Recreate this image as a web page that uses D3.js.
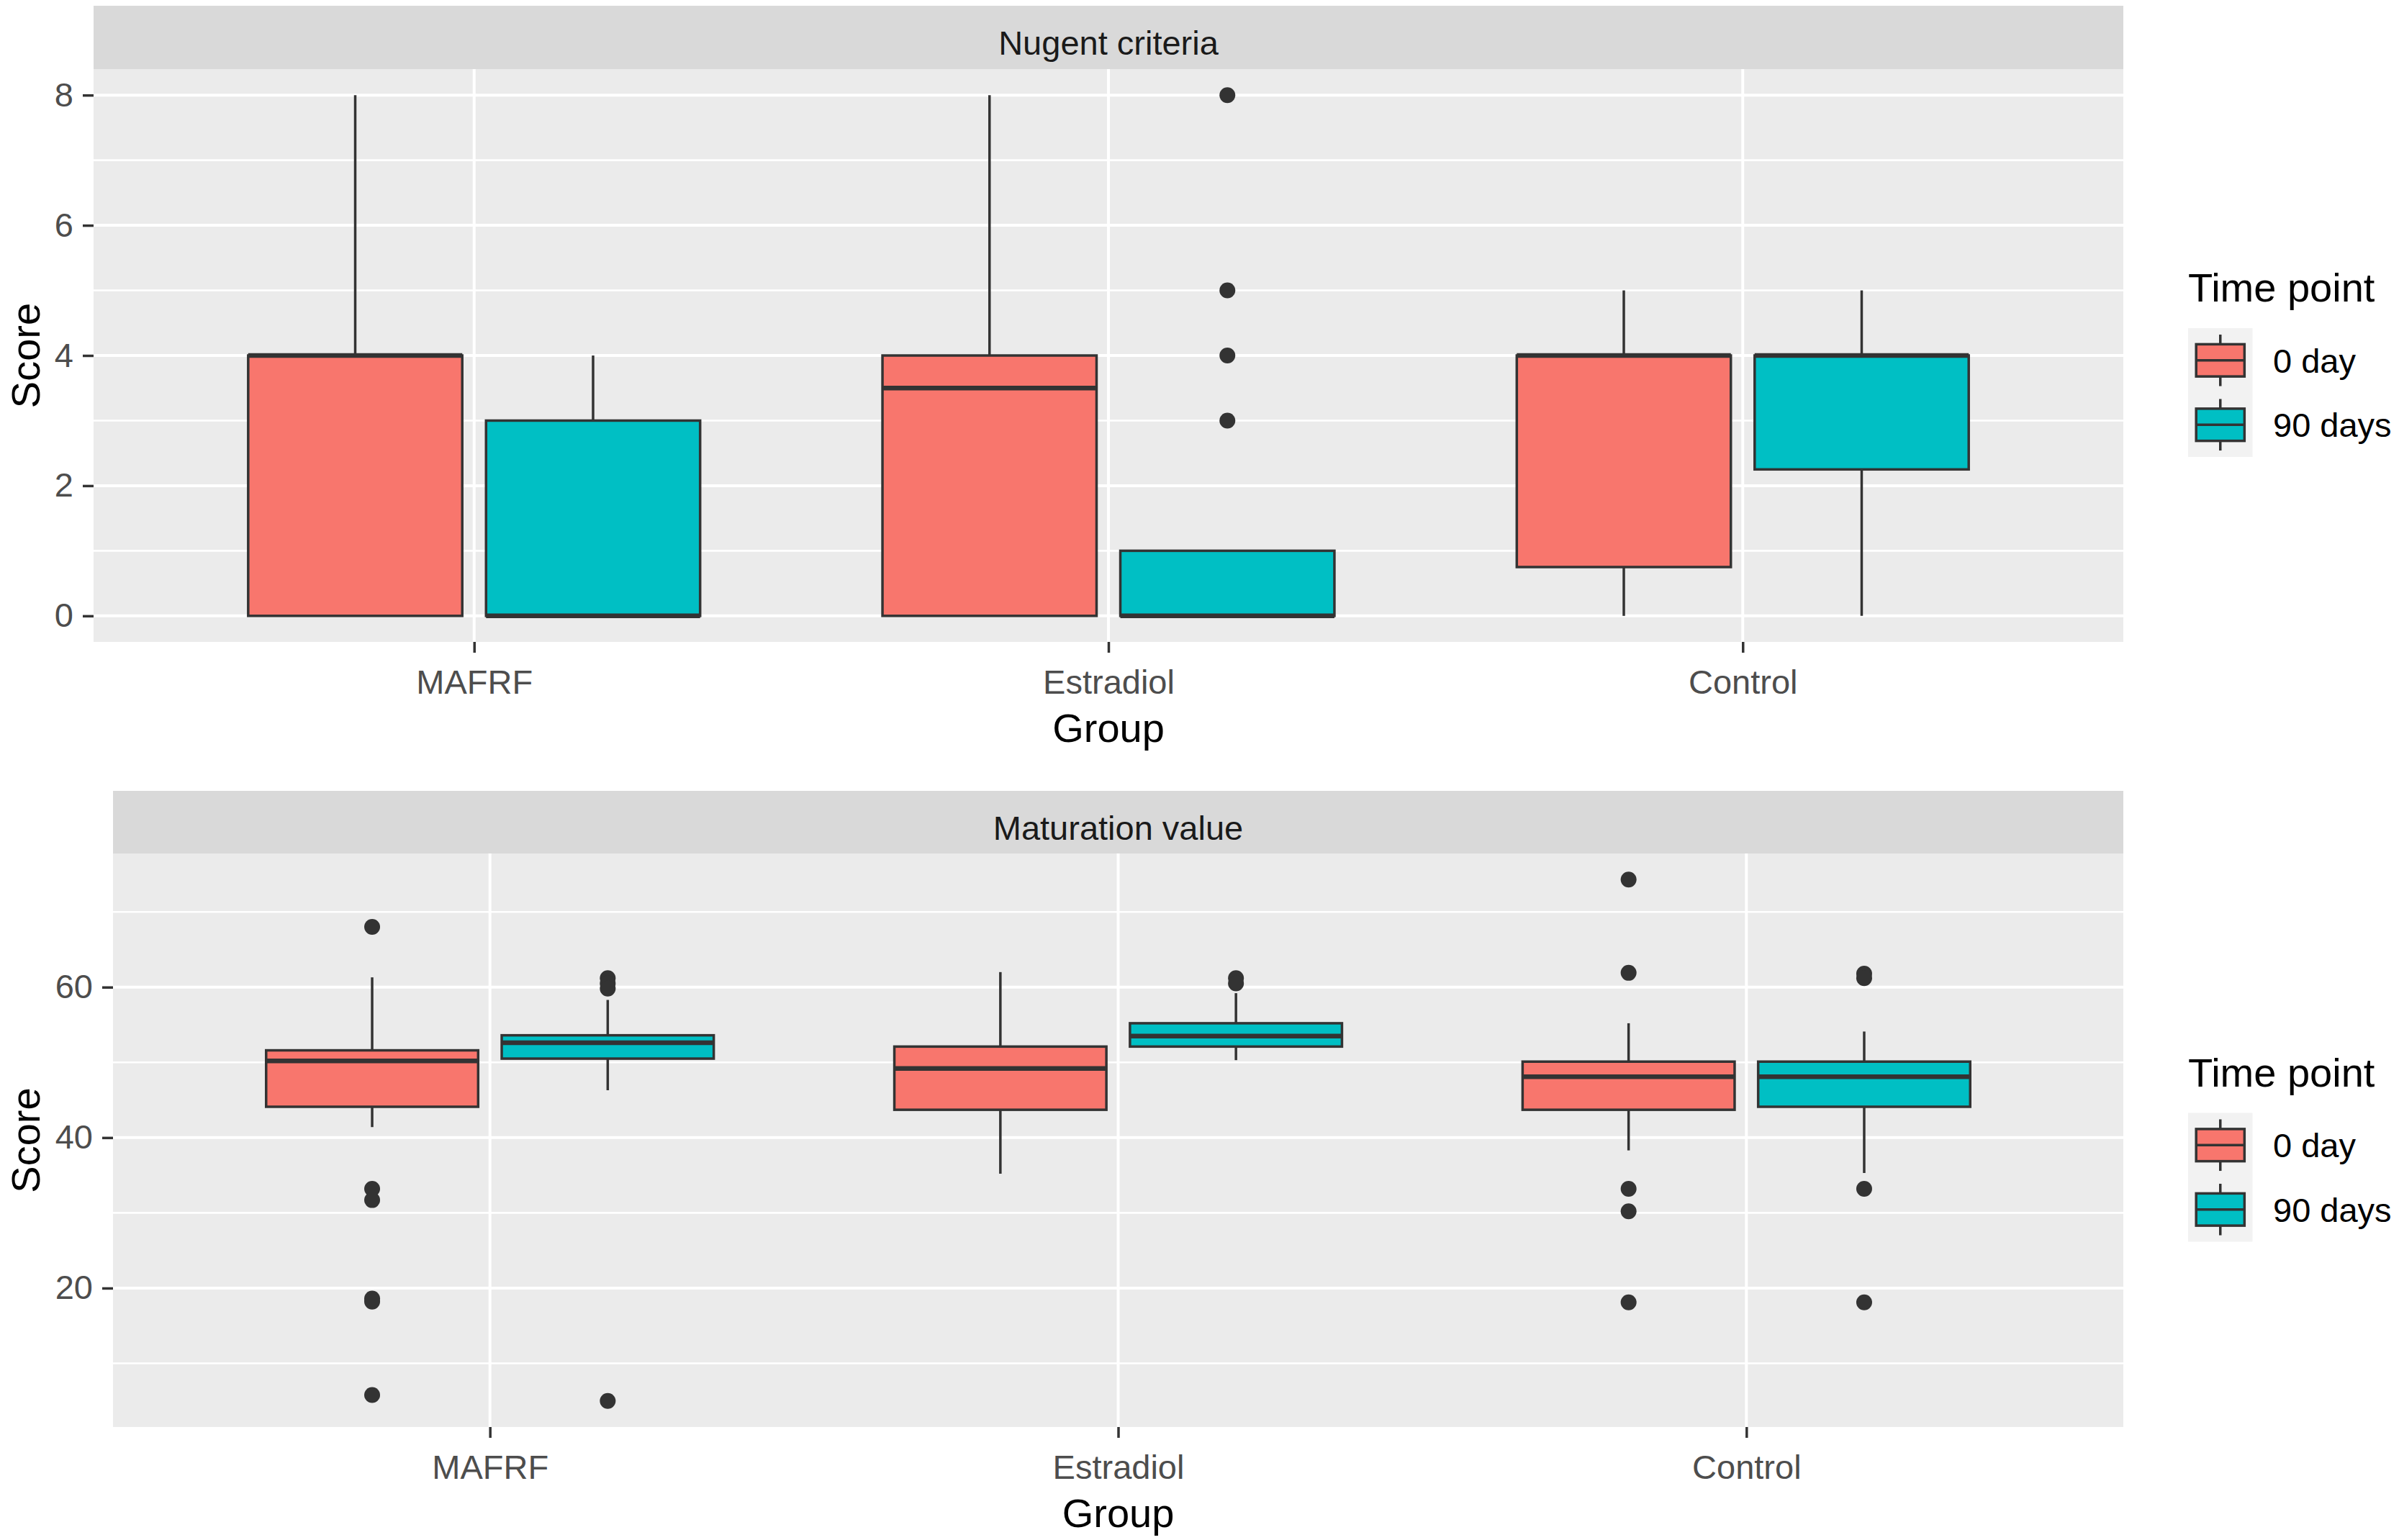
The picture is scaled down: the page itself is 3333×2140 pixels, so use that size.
<!DOCTYPE html>
<html>
<head>
<meta charset="utf-8">
<script src="https://cdn.jsdelivr.net/npm/d3@7"></script>
<style>
  body { margin: 0; background: #fff; }
  text { font-family: "Liberation Sans", Arial, sans-serif; }
</style>
</head>
<body>
<div id="chart"></div>
<script>
// categories
const groups = ["MAFRF", "Estradiol", "Control"];
const timePoints = ["0 day", "90 days"];
const fillColors = ["#F8766D", "#00BFC4"];

// Nugent criteria, order: MAFRF 0d, MAFRF 90d, Estradiol 0d, Estradiol 90d, Control 0d, Control 90d
const nugentLow = [0, 0, 0, 0, 0, 0];
const nugentQ1 = [0, 0, 0, 0, 0.75, 2.25];
const nugentMed = [4, 0, 3.5, 0, 4, 4];
const nugentQ3 = [4, 3, 4, 1, 4, 4];
const nugentHigh = [8, 4, 8, 1, 5, 5];
const nugentOut = [[], [], [], [3, 4, 5, 8], [], []];
const nugentTicks = [0, 2, 4, 6, 8];
const nugentMinor = [1, 3, 5, 7];

// Maturation value, same order
const matLow = [41.4, 46.3, 35.2, 50.3, 38.3, 35.3];
const matQ1 = [44.1, 50.5, 43.7, 52.1, 43.7, 44.1];
const matMed = [50.2, 52.6, 49.2, 53.5, 48.1, 48.1];
const matQ3 = [51.6, 53.6, 52.1, 55.2, 50.1, 50.1];
const matHigh = [61.3, 58.3, 62.0, 59.2, 55.2, 54.1];
const matOut = [
  [68, 33.2, 31.7, 18.6, 18.2, 5.8],
  [61.2, 60.5, 59.8, 5.0],
  [],
  [61.2, 60.5],
  [74.3, 61.9, 33.2, 30.2, 18.1],
  [61.8, 61.2, 33.2, 18.1]
];
const matTicks = [20, 40, 60];
const matMinor = [10, 30, 50, 70];

const svg = d3.select("#chart")
  .append("svg")
  .attr("width", 3333)
  .attr("height", 2140);

function drawPanel(p) {
  const g = svg.append("g");

  let all = [].concat(p.low, p.high, ...p.out);
  let lo = d3.min(all), hi = d3.max(all);
  let pad = (hi - lo) * 0.05;

  const y = d3.scaleLinear()
    .domain([lo - pad, hi + pad])
    .range([p.bottom, p.top]);

  const x = d3.scalePoint()
    .domain(groups)
    .range([p.left, p.right])
    .padding(0.6);

  const step = x.step();
  const dodge = d3.scaleBand()
    .domain(timePoints)
    .range([-0.375 * step, 0.375 * step])
    .paddingInner(0.1)
    .paddingOuter(0.05);

  // strip
  g.append("rect")
    .attr("x", p.left).attr("y", p.stripTop)
    .attr("width", p.right - p.left).attr("height", p.top - p.stripTop)
    .attr("fill", "#D9D9D9");
  g.append("text")
    .attr("x", (p.left + p.right) / 2)
    .attr("y", (p.stripTop + p.top) / 2 + 24)
    .attr("text-anchor", "middle")
    .attr("font-size", 47)
    .attr("fill", "#1A1A1A")
    .text(p.title);

  // panel background + grid
  g.append("rect")
    .attr("x", p.left).attr("y", p.top)
    .attr("width", p.right - p.left).attr("height", p.bottom - p.top)
    .attr("fill", "#EBEBEB");

  g.selectAll(".minor")
    .data(p.minor)
    .enter()
    .append("line")
    .attr("x1", p.left).attr("x2", p.right)
    .attr("y1", d => y(d)).attr("y2", d => y(d))
    .attr("stroke", "#fff")
    .attr("stroke-width", 2.6);

  g.selectAll(".major")
    .data(p.ticks)
    .enter()
    .append("line")
    .attr("x1", p.left).attr("x2", p.right)
    .attr("y1", d => y(d)).attr("y2", d => y(d))
    .attr("stroke", "#fff")
    .attr("stroke-width", 4);

  g.selectAll(".vgrid")
    .data(groups)
    .enter()
    .append("line")
    .attr("x1", d => x(d)).attr("x2", d => x(d))
    .attr("y1", p.top).attr("y2", p.bottom)
    .attr("stroke", "#fff")
    .attr("stroke-width", 4);

  // boxes
  let boxes = d3.range(groups.length * timePoints.length).map(i => ({
    group: groups[Math.floor(i / 2)],
    time: timePoints[i % 2],
    fill: fillColors[i % 2],
    low: p.low[i], q1: p.q1[i], med: p.med[i], q3: p.q3[i], high: p.high[i],
    out: p.out[i]
  }));
  boxes.forEach(b => { b.cx = x(b.group) + dodge(b.time) + dodge.bandwidth() / 2; });

  // outliers
  boxes.forEach(b => {
    g.selectAll(null)
      .data(b.out)
      .enter()
      .append("circle")
      .attr("cx", b.cx)
      .attr("cy", d => y(d))
      .attr("r", 11)
      .attr("fill", "#333333");
  });

  // whiskers
  g.selectAll(".whiskerUp")
    .data(boxes)
    .enter()
    .append("line")
    .attr("x1", d => d.cx).attr("x2", d => d.cx)
    .attr("y1", d => y(d.q3)).attr("y2", d => y(d.high))
    .attr("stroke", "#333333")
    .attr("stroke-width", 3.5);
  g.selectAll(".whiskerDown")
    .data(boxes)
    .enter()
    .append("line")
    .attr("x1", d => d.cx).attr("x2", d => d.cx)
    .attr("y1", d => y(d.q1)).attr("y2", d => y(d.low))
    .attr("stroke", "#333333")
    .attr("stroke-width", 3.5);

  g.selectAll(".box")
    .data(boxes)
    .enter()
    .append("rect")
    .attr("x", d => d.cx - dodge.bandwidth() / 2)
    .attr("width", dodge.bandwidth())
    .attr("y", d => y(d.q3))
    .attr("height", d => y(d.q1) - y(d.q3))
    .attr("fill", d => d.fill)
    .attr("stroke", "#333333")
    .attr("stroke-width", 3.5);

  g.selectAll(".median")
    .data(boxes)
    .enter()
    .append("line")
    .attr("x1", d => d.cx - dodge.bandwidth() / 2)
    .attr("x2", d => d.cx + dodge.bandwidth() / 2)
    .attr("y1", d => y(d.med)).attr("y2", d => y(d.med))
    .attr("stroke", "#333333")
    .attr("stroke-width", 6.5);

  // axes
  let leftAxis = d3.axisLeft(y).tickValues(p.ticks).tickSize(15).tickPadding(13);
  let bottomAxis = d3.axisBottom(x).tickSize(15).tickPadding(24);

  let ya = g.append("g")
    .attr("transform", `translate(${p.left}, 0)`)
    .call(leftAxis);
  let xa = g.append("g")
    .attr("transform", `translate(0, ${p.bottom})`)
    .call(bottomAxis);

  [ya, xa].forEach(a => {
    a.select(".domain").remove();
    a.selectAll("line").attr("stroke", "#333333").attr("stroke-width", 3.5);
    a.selectAll("text")
      .attr("fill", "#4D4D4D")
      .attr("font-size", 47)
      .attr("font-family", "'Liberation Sans', Arial, sans-serif");
  });

  // axis titles
  g.append("text")
    .attr("x", (p.left + p.right) / 2)
    .attr("y", p.bottom + 139)
    .attr("text-anchor", "middle")
    .attr("font-size", 56)
    .text("Group");

  g.append("text")
    .attr("transform", `translate(55, ${(p.top + p.bottom) / 2}) rotate(-90)`)
    .attr("text-anchor", "middle")
    .attr("font-size", 56)
    .text("Score");

  // legend
  let mid = (p.top + p.bottom) / 2;
  let lx = 3040, key = 89.5;
  let lg = g.append("g");
  lg.append("text")
    .attr("x", lx)
    .attr("y", mid - 75)
    .attr("font-size", 56)
    .text("Time point");
  lg.append("rect")
    .attr("x", lx).attr("y", mid - 38)
    .attr("width", key).attr("height", key * 2)
    .attr("fill", "#F2F2F2");

  timePoints.forEach((t, i) => {
    let ky = mid - 38 + i * key;
    lg.append("line")
      .attr("x1", lx + key / 2).attr("x2", lx + key / 2)
      .attr("y1", ky + key * 0.1).attr("y2", ky + key * 0.9)
      .attr("stroke", "#333333").attr("stroke-width", 3.5);
    lg.append("rect")
      .attr("x", lx + key * 0.125).attr("y", ky + key * 0.25)
      .attr("width", key * 0.75).attr("height", key * 0.5)
      .attr("fill", fillColors[i])
      .attr("stroke", "#333333").attr("stroke-width", 3.5);
    lg.append("line")
      .attr("x1", lx + key * 0.125).attr("x2", lx + key * 0.875)
      .attr("y1", ky + key / 2).attr("y2", ky + key / 2)
      .attr("stroke", "#333333").attr("stroke-width", 3.5);
    lg.append("text")
      .attr("x", 3158)
      .attr("y", ky + key / 2 + 17)
      .attr("font-size", 47)
      .text(t);
  });
}

drawPanel({
  title: "Nugent criteria",
  left: 130, right: 2950, stripTop: 8, top: 96, bottom: 892,
  low: nugentLow, q1: nugentQ1, med: nugentMed, q3: nugentQ3, high: nugentHigh,
  out: nugentOut, ticks: nugentTicks, minor: nugentMinor
});

drawPanel({
  title: "Maturation value",
  left: 157, right: 2950, stripTop: 1099, top: 1186, bottom: 1983,
  low: matLow, q1: matQ1, med: matMed, q3: matQ3, high: matHigh,
  out: matOut, ticks: matTicks, minor: matMinor
});
</script>
</body>
</html>
